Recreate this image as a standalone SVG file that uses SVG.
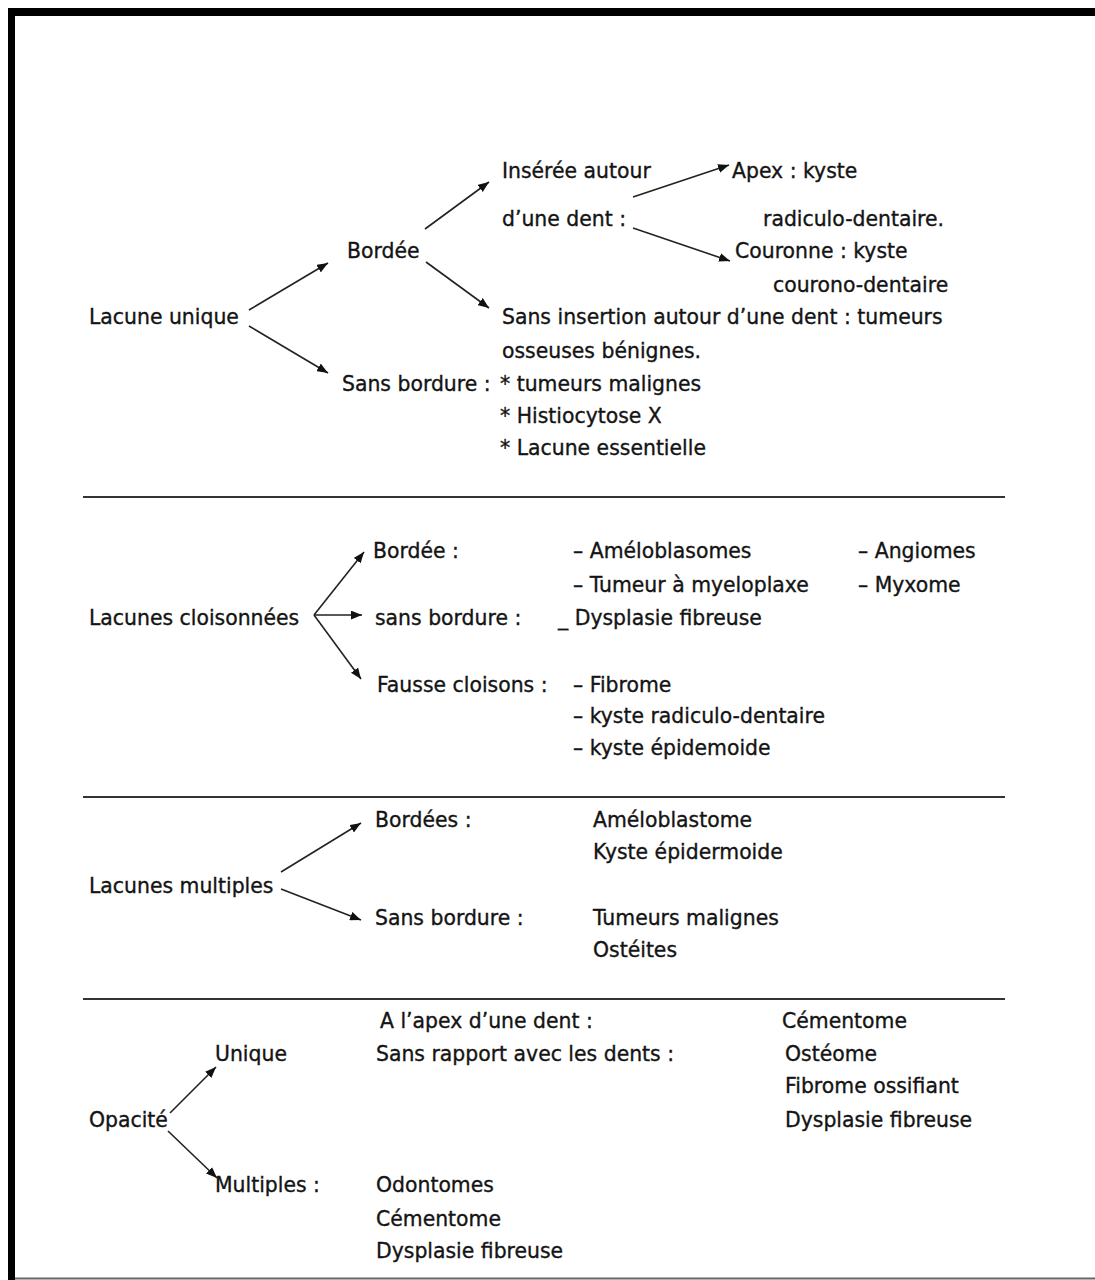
<svg xmlns="http://www.w3.org/2000/svg" width="1095" height="1280" viewBox="0 0 1095 1280">
<defs>
<marker id="ah" viewBox="0 0 10 8" refX="10" refY="4" markerWidth="11" markerHeight="9" markerUnits="userSpaceOnUse" orient="auto">
<path d="M0,0 L10,4 L0,8 z" fill="#111"/>
</marker>
<style>
text{font-family:"DejaVu Sans","Verdana",sans-serif;font-size:20.4px;fill:#141414;stroke:#141414;stroke-width:0.35px;}
.c{stroke:#222;stroke-width:1.6;fill:none;marker-end:url(#ah);}
.sep{stroke:#333;stroke-width:2;}
</style>
</defs>
<rect x="0" y="0" width="1095" height="1280" fill="#fff"/>
<rect x="8" y="8" width="1087" height="8" fill="#000"/>
<rect x="8" y="8" width="7" height="1272" fill="#000"/>
<line x1="15" y1="1278.5" x2="1095" y2="1278.5" stroke="#666" stroke-width="2"/>
<g id="separators">
<line class="sep" x1="83" y1="497" x2="1005" y2="497"/>
<line class="sep" x1="83" y1="797" x2="1005" y2="797"/>
<line class="sep" x1="83" y1="999" x2="1005" y2="999"/>
</g>
<g id="connectors">
<line class="c" x1="249" y1="310" x2="328" y2="263"/>
<line class="c" x1="249" y1="326" x2="328" y2="373"/>
<line class="c" x1="425" y1="229" x2="489" y2="182"/>
<line class="c" x1="426" y1="262" x2="489" y2="308"/>
<line class="c" x1="633" y1="197" x2="729" y2="165"/>
<line class="c" x1="633" y1="228" x2="730" y2="261"/>
<line class="c" x1="314" y1="615" x2="364" y2="552"/>
<line class="c" x1="314" y1="615" x2="362" y2="615"/>
<line class="c" x1="314" y1="615" x2="361" y2="679"/>
<line class="c" x1="281" y1="872" x2="361" y2="823"/>
<line class="c" x1="281" y1="889" x2="361" y2="920"/>
<line class="c" x1="170" y1="1113" x2="216" y2="1067"/>
<line class="c" x1="168" y1="1131" x2="217" y2="1178"/>
</g>
<g id="n-lacune-unique"><text x="89" y="324">Lacune unique</text></g>
<g id="n-bordee"><text x="347" y="258">Bordée</text></g>
<g id="n-inseree"><text x="502" y="178">Insérée autour</text><text x="502" y="226">d’une dent :</text></g>
<g id="n-apex"><text x="732" y="178">Apex : kyste</text><text x="763" y="226">radiculo-dentaire.</text></g>
<g id="n-couronne"><text x="735" y="258">Couronne : kyste</text><text x="773" y="292">courono-dentaire</text></g>
<g id="n-sans-insertion"><text x="502" y="324">Sans insertion autour d’une dent : tumeurs</text><text x="502" y="358">osseuses bénignes.</text></g>
<g id="n-sans-bordure-1"><text x="342" y="391">Sans bordure :</text><text x="500" y="391">* tumeurs malignes</text><text x="500" y="423">* Histiocytose X</text><text x="500" y="455">* Lacune essentielle</text></g>
<g id="n-lacunes-cloisonnees"><text x="89" y="625">Lacunes cloisonnées</text></g>
<g id="n-bordee-2"><text x="373" y="558">Bordée :</text><text x="573" y="558">– Améloblasomes</text><text x="858" y="558">– Angiomes</text><text x="573" y="592">– Tumeur à myeloplaxe</text><text x="858" y="592">– Myxome</text></g>
<g id="n-sans-bordure-2"><text x="375" y="625">sans bordure :</text><text x="558" y="625">_ Dysplasie fibreuse</text></g>
<g id="n-fausse-cloisons"><text x="377" y="692">Fausse cloisons :</text><text x="573" y="692">– Fibrome</text><text x="573" y="723">– kyste radiculo-dentaire</text><text x="573" y="755">– kyste épidemoide</text></g>
<g id="n-lacunes-multiples"><text x="89" y="893">Lacunes multiples</text></g>
<g id="n-bordees-3"><text x="375" y="827">Bordées :</text><text x="593" y="827">Améloblastome</text><text x="593" y="859">Kyste épidermoide</text></g>
<g id="n-sans-bordure-3"><text x="375" y="925">Sans bordure :</text><text x="593" y="925">Tumeurs malignes</text><text x="593" y="957">Ostéites</text></g>
<g id="n-opacite"><text x="89" y="1127">Opacité</text></g>
<g id="n-unique"><text x="215" y="1061">Unique</text><text x="380" y="1028">A l’apex d’une dent :</text><text x="376" y="1061">Sans rapport avec les dents :</text><text x="782" y="1028">Cémentome</text><text x="785" y="1061">Ostéome</text><text x="785" y="1093">Fibrome ossifiant</text><text x="785" y="1127">Dysplasie fibreuse</text></g>
<g id="n-multiples"><text x="215" y="1192">Multiples :</text><text x="376" y="1192">Odontomes</text><text x="376" y="1226">Cémentome</text><text x="376" y="1258">Dysplasie fibreuse</text></g>
</svg>
